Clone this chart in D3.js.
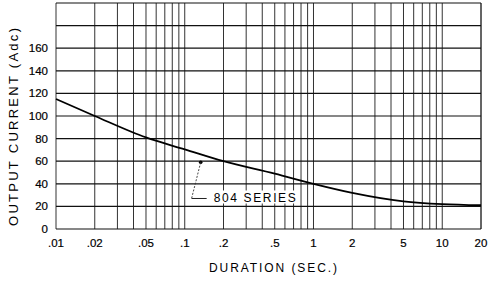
<!DOCTYPE html>
<html>
<head>
<meta charset="utf-8">
<script src="https://cdn.jsdelivr.net/npm/d3@7"></script>
<style>
  body { margin: 0; background: #fff; }
  svg { display: block; font-family: "Liberation Sans", Arial, sans-serif; }
  svg text { fill: #000; }
  svg .tick-label { stroke: #000; stroke-width: 0.2; }
</style>
</head>
<body>
<div id="chart"></div>
<script>
// data
const durations = [0.01, 0.02, 0.05, 0.1, 0.2, 0.5, 1, 2, 5, 10, 20];
const currents = [115, 100, 81, 70.5, 60, 49, 40, 32, 24.5, 22, 21];
const xTickValues = [0.01, 0.02, 0.05, 0.1, 0.2, 0.5, 1, 2, 5, 10, 20];
const xTickLabels = [".01", ".02", ".05", ".1", ".2", ".5", "1", "2", "5", "10", "20"];
const yTickValues = [0, 20, 40, 60, 80, 100, 120, 140, 160];
const seriesLabel = "804 SERIES";

const width = 489, height = 285;
const x = d3.scaleLog().domain([0.01, 20]).range([56, 481]);
const y = d3.scaleLinear().domain([0, 200]).range([229, 3]);

const svg = d3.select("#chart").append("svg")
    .attr("width", width)
    .attr("height", height);

// vertical log grid (1..9 in each decade)
const gridX = [];
[0.01, 0.1, 1, 10].forEach(dec => {
    for (let m = 1; m <= 9; m++) {
        const v = +(dec * m).toPrecision(3);
        if (v >= 0.01 && v <= 20) gridX.push(v);
    }
});
gridX.push(20);

svg.append("g")
    .selectAll("line")
    .data(gridX)
    .join("line")
    .attr("x1", d => x(d)).attr("x2", d => x(d))
    .attr("y1", y(200)).attr("y2", y(0))
    .attr("stroke", "#333")
    .attr("stroke-width", 1);

// horizontal grid
svg.append("g")
    .selectAll("line")
    .data(d3.range(0, 201, 20))
    .join("line")
    .attr("x1", x(0.01)).attr("x2", x(20))
    .attr("y1", d => y(d)).attr("y2", d => y(d))
    .attr("stroke", "#111")
    .attr("stroke-width", 1.2);

// y tick labels
svg.append("g")
    .selectAll("text")
    .data(yTickValues)
    .join("text")
    .attr("class", "tick-label")
    .attr("x", 48)
    .attr("y", d => y(d) + 4)
    .attr("text-anchor", "end")
    .attr("font-size", 11.5)
    .text(d => d);

// x tick labels
svg.append("g")
    .selectAll("text")
    .data(xTickValues)
    .join("text")
    .attr("class", "tick-label")
    .attr("x", d => x(d))
    .attr("y", 247)
    .attr("text-anchor", "middle")
    .attr("font-size", 11.5)
    .text((d, i) => xTickLabels[i]);

// axis titles
svg.append("text")
    .attr("x", 273).attr("y", 272)
    .attr("text-anchor", "middle")
    .attr("font-size", 12)
    .attr("textLength", 128)
    .attr("lengthAdjust", "spacing")
    .text("DURATION (SEC.)");

svg.append("text")
    .attr("transform", "translate(18,127) rotate(-90)")
    .attr("text-anchor", "middle")
    .attr("font-size", 13)
    .attr("textLength", 198)
    .attr("lengthAdjust", "spacing")
    .text("OUTPUT CURRENT (Adc)");

// curve
const line = d3.line()
    .x(d => x(d[0]))
    .y(d => y(d[1]))
    .curve(d3.curveMonotoneX);

svg.append("path")
    .datum(d3.zip(durations, currents))
    .attr("fill", "none")
    .attr("stroke", "#000")
    .attr("stroke-width", 1.8)
    .attr("d", line);

// series annotation
svg.append("circle")
    .attr("cx", x(0.133)).attr("cy", y(59))
    .attr("r", 1.8)
    .attr("fill", "#000");
svg.append("line")
    .attr("x1", x(0.133)).attr("y1", y(59))
    .attr("x2", x(0.113)).attr("y2", y(27))
    .attr("stroke", "#333")
    .attr("stroke-width", 0.9)
    .attr("stroke-dasharray", "2,1.5");
svg.append("line")
    .attr("x1", x(0.113)).attr("y1", y(27))
    .attr("x2", x(0.148)).attr("y2", y(27))
    .attr("stroke", "#222")
    .attr("stroke-width", 1);
svg.append("rect")
    .attr("x", x(0.16)).attr("y", y(27) - 8)
    .attr("width", 86).attr("height", 13)
    .attr("fill", "#fff");
svg.append("text")
    .attr("x", x(0.168)).attr("y", y(27) + 4)
    .attr("font-size", 12)
    .attr("textLength", 82)
    .attr("lengthAdjust", "spacing")
    .text(seriesLabel);
</script>
</body>
</html>
